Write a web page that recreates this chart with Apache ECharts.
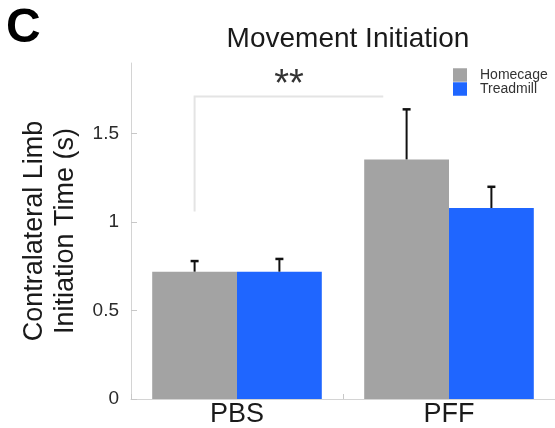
<!DOCTYPE html>
<html>
<head>
<meta charset="utf-8">
<script src="https://cdn.jsdelivr.net/npm/echarts@6/dist/echarts.min.js"></script>
<style>html,body{margin:0;padding:0;background:#fff}#c{width:555px;height:428px}</style>
</head>
<body>
<div id="c"></div>
<script>
var categories = ['PBS', 'PFF'];
var seriesNames = ['Homecage', 'Treadmill'];
var homecage = [0.72, 1.355];
var treadmill = [0.72, 1.08];
var homecageErr = [0.06, 0.283];
var treadmillErr = [0.072, 0.12];
var yTicks = [0, 0.5, 1, 1.5];
var sigLabel = '**';
var bracketTop = 1.71, bracketBottom = 1.06, bracketSpan = 0.89; // data units / band widths
var colors = ['#a3a3a3', '#1f66ff'];
var FONT = 'Liberation Sans, Arial, Helvetica, sans-serif';

var chart = echarts.init(document.getElementById('c'));

function errSeries(values, errs, side) {
  return {
    type: 'custom',
    z: 5,
    silent: true,
    data: values.map(function (v, i) { return [i, v, v + errs[i]]; }),
    renderItem: function (params, api) {
      var c = api.value(0);
      var bandW = api.size([1, 0])[0];
      var barW = bandW * 0.4;
      var p0 = api.coord([c, api.value(1)]);
      var p1 = api.coord([c, api.value(2)]);
      var x = p0[0] + side * barW / 2;
      var cap = 4;
      return {
        type: 'group',
        children: [
          {type: 'line', shape: {x1: x, y1: p0[1], x2: x, y2: p1[1]}, style: {stroke: '#111', lineWidth: 2}},
          {type: 'line', shape: {x1: x - cap, y1: p1[1], x2: x + cap, y2: p1[1]}, style: {stroke: '#111', lineWidth: 2.5}}
        ]
      };
    }
  };
}

var option = {
  animation: false,
  backgroundColor: '#fff',
  title: {
    text: 'Movement Initiation',
    left: 343, top: 20, textAlign: 'center',
    textStyle: {fontFamily: FONT, fontSize: 28, fontWeight: 'normal', color: '#1a1a1a'}
  },
  legend: {
    orient: 'vertical',
    left: 448, top: 63,
    itemWidth: 14, itemHeight: 13.5, itemGap: 0,
    icon: 'rect',
    textStyle: {fontFamily: FONT, fontSize: 14, color: '#333', padding: [0, 0, 0, 8], lineHeight: 12},
    data: seriesNames
  },
  grid: {left: 131, top: 63, width: 426, height: 337, containLabel: false},
  xAxis: {
    type: 'category',
    data: categories,
    axisLine: {lineStyle: {color: '#d4d4d4', width: 1}},
    axisTick: {show: true, inside: true, length: 5, lineStyle: {color: '#c8c8c8'}},
    axisLabel: {fontFamily: FONT, fontSize: 27, color: '#1a1a1a', margin: 2}
  },
  yAxis: {
    type: 'value',
    min: 0, max: 1.9,
    name: 'Contralateral Limb\nInitiation Time (s)',
    nameLocation: 'middle',
    nameGap: 50,
    nameTextStyle: {fontFamily: FONT, fontSize: 27, color: '#1a1a1a', lineHeight: 31},
    axisLine: {show: true, lineStyle: {color: '#d4d4d4', width: 1}},
    axisTick: {show: true, inside: true, length: 6, lineStyle: {color: '#c8c8c8'}, customValues: yTicks},
    axisLabel: {fontFamily: FONT, fontSize: 19, color: '#2a2a2a', margin: 12, customValues: yTicks},
    splitLine: {show: false}
  },
  series: [
    {name: seriesNames[0], type: 'bar', data: homecage, barGap: '0%', barCategoryGap: '20%', itemStyle: {color: colors[0]}},
    {name: seriesNames[1], type: 'bar', data: treadmill, barGap: '0%', barCategoryGap: '20%', itemStyle: {color: colors[1]}},
    errSeries(homecage, homecageErr, -1),
    errSeries(treadmill, treadmillErr, 1)
  ]
};
chart.setOption(option);

// significance bracket and labels, positioned through the axes
var p0 = chart.convertToPixel({gridIndex: 0}, [0, bracketBottom]);
var p1 = chart.convertToPixel({gridIndex: 0}, [1, bracketTop]);
var bandW = p1[0] - p0[0];
var xl = p0[0] - bandW * 0.2;
var xr = xl + bandW * bracketSpan;
var yt = p1[1];
chart.setOption({
  graphic: [
    {type: 'polyline', silent: true, shape: {points: [[xl, p0[1]], [xl, yt], [xr, yt]]}, style: {stroke: '#e4e4e4', lineWidth: 2, fill: null}},
    {type: 'text', x: (xl + xr) / 2, y: yt - 30, style: {text: sigLabel, align: 'center', fontFamily: FONT, fontSize: 38, fill: '#333'}},
    {type: 'text', left: 6, top: 5, style: {text: 'C', fontFamily: FONT, fontSize: 48, fontWeight: 'bold', fill: '#000'}}
  ]
});
</script>
</body>
</html>
